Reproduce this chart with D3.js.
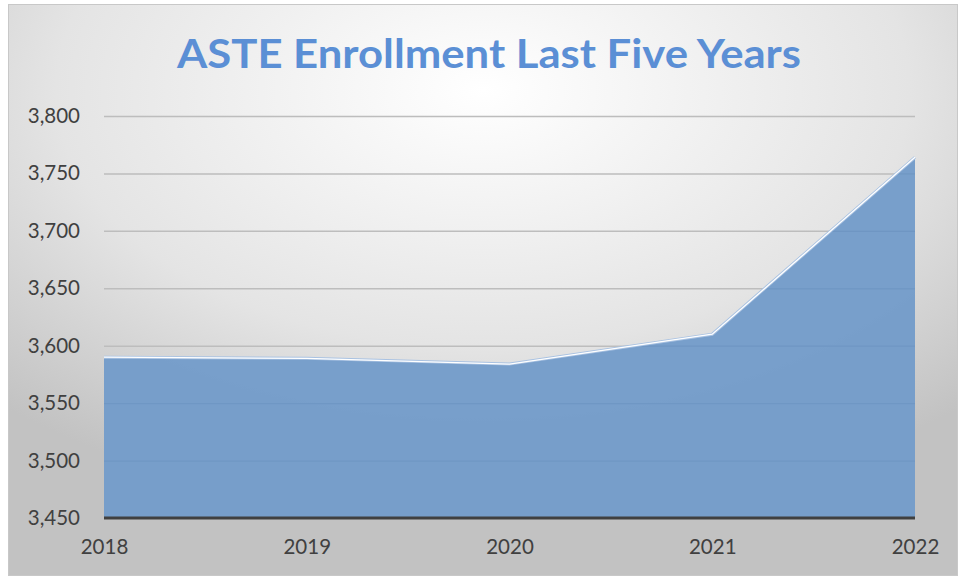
<!DOCTYPE html>
<html>
<head>
<meta charset="utf-8">
<script src="https://cdn.jsdelivr.net/npm/d3@7"></script>
<style>
  body { margin: 0; background: #fff; }
  text { font-family: Lato, "Open Sans", sans-serif; }
</style>
</head>
<body>
<svg id="chart"></svg>
<script>
// data
const years = ["2018", "2019", "2020", "2021", "2022"];
const enrollment = [3590, 3589, 3584, 3610, 3764];
const yTicks = [3450, 3500, 3550, 3600, 3650, 3700, 3750, 3800];

const width = 959;
const height = 577;
const plotLeft = 104;
const plotRight = 915;
const plotTop = 116;
const plotBottom = 518;

const svg = d3.select("#chart").attr("width", width).attr("height", height);

// background gradient
const defs = svg.append("defs");
const grad = defs
  .append("radialGradient")
  .attr("id", "bg")
  .attr("cx", "50%")
  .attr("cy", "15%")
  .attr("r", "75%");
grad.append("stop").attr("offset", "0%").attr("stop-color", "#ffffff");
grad.append("stop").attr("offset", "60%").attr("stop-color", "#e4e4e4");
grad.append("stop").attr("offset", "100%").attr("stop-color", "#c2c2c2");

svg
  .append("rect")
  .attr("x", 8.5)
  .attr("y", 4.5)
  .attr("width", width - 10)
  .attr("height", height - 6)
  .attr("fill", "url(#bg)")
  .attr("stroke", "#c8c8c8");

const xScale = d3.scalePoint().domain(years).range([plotLeft, plotRight]);
const yScale = d3.scaleLinear().domain([3450, 3800]).range([plotBottom, plotTop]);

// gridlines
svg
  .append("g")
  .selectAll("line")
  .data(yTicks.slice(1))
  .enter()
  .append("line")
  .attr("x1", plotLeft)
  .attr("x2", plotRight)
  .attr("y1", (d) => yScale(d) + 0.5)
  .attr("y2", (d) => yScale(d) + 0.5)
  .attr("stroke", "#bdbdbd")
  .attr("stroke-width", 1.5);

// area
const points = years.map((y, i) => ({ year: y, value: enrollment[i] }));
const area = d3
  .area()
  .x((d) => xScale(d.year))
  .y0(plotBottom)
  .y1((d) => yScale(d.value));
const line = d3
  .line()
  .x((d) => xScale(d.year))
  .y((d) => yScale(d.value));

svg
  .append("path")
  .datum(points)
  .attr("d", area)
  .attr("fill", "#759dca")
  .attr("fill-opacity", 0.98);

defs
  .append("clipPath")
  .attr("id", "areaClip")
  .append("path")
  .datum(points)
  .attr("d", area);

// gridlines show faintly through the fill
svg
  .append("g")
  .selectAll("line")
  .data(yTicks.slice(1))
  .enter()
  .append("line")
  .attr("x1", plotLeft)
  .attr("x2", plotRight)
  .attr("y1", (d) => yScale(d) + 0.5)
  .attr("y2", (d) => yScale(d) + 0.5)
  .attr("stroke", "#5f86b4")
  .attr("stroke-opacity", 0.35)
  .attr("stroke-width", 1)
  .attr("clip-path", "url(#areaClip)");

svg
  .append("path")
  .datum(points)
  .attr("d", line)
  .attr("fill", "none")
  .attr("stroke", "#a9c2e2")
  .attr("stroke-width", 3);
svg
  .append("path")
  .datum(points)
  .attr("d", line)
  .attr("fill", "none")
  .attr("stroke", "#ffffff")
  .attr("stroke-width", 1.3);

// baseline
svg
  .append("line")
  .attr("x1", plotLeft)
  .attr("x2", plotRight)
  .attr("y1", plotBottom)
  .attr("y2", plotBottom)
  .attr("stroke", "#404040")
  .attr("stroke-width", 3);

// y axis labels
const yAxis = d3
  .axisLeft(yScale)
  .tickValues(yTicks)
  .tickFormat(d3.format(","))
  .tickSize(0)
  .tickPadding(24);
const gy = svg
  .append("g")
  .attr("transform", "translate(" + plotLeft + ",0)")
  .call(yAxis);
gy.select(".domain").remove();
gy.selectAll("text")
  .attr("font-size", 20.5)
  .attr("fill", "#404040")
  .style("font-family", "Lato, 'Open Sans', sans-serif");

// x axis labels
const xAxis = d3.axisBottom(xScale).tickSize(0).tickPadding(21);
const gx = svg
  .append("g")
  .attr("transform", "translate(0," + plotBottom + ")")
  .call(xAxis);
gx.select(".domain").remove();
gx.selectAll("text")
  .attr("font-size", 20.5)
  .attr("fill", "#404040")
  .style("font-family", "Lato, 'Open Sans', sans-serif");

// title
svg
  .append("text")
  .attr("x", 489)
  .attr("y", 68)
  .attr("text-anchor", "middle")
  .attr("font-size", 41)
  .attr("font-weight", "bold")
  .attr("textLength", 624)
  .attr("lengthAdjust", "spacingAndGlyphs")
  .attr("fill", "#5b8fd5")
  .text("ASTE Enrollment Last Five Years");
</script>
</body>
</html>
